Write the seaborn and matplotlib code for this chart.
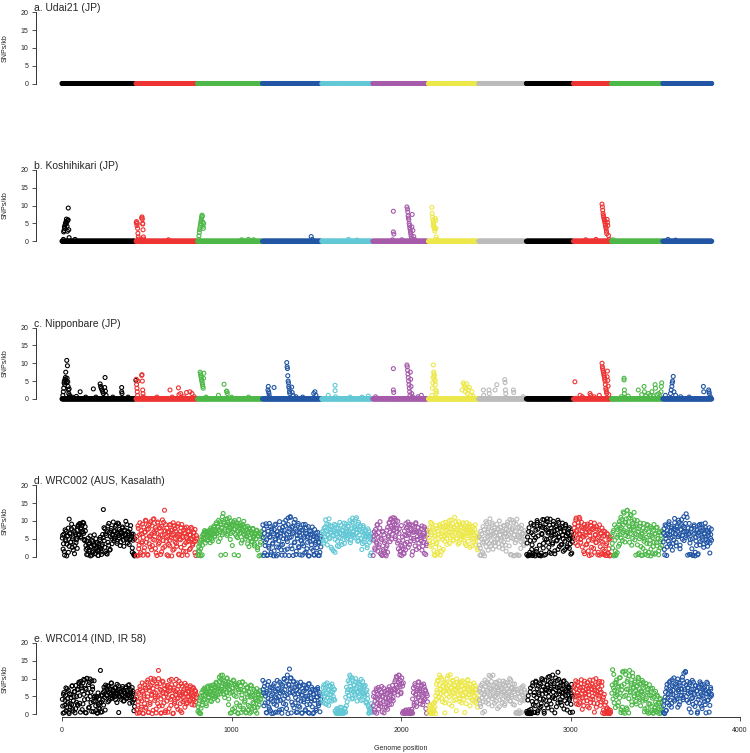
import numpy as np
import pandas as pd
import matplotlib
matplotlib.use("Agg")
import matplotlib.pyplot as plt
import seaborn as sns

sns.set_style("white")
plt.rcParams["font.family"] = ["Liberation Sans", "DejaVu Sans"]

# ---------------- chromosome layout ----------------
chrom_names = ["chr1", "chr2", "chr3", "chr4", "chr5", "chr6",
               "chr7", "chr8", "chr9", "chr10", "chr11", "chr12"]
chrom_start = [0, 437, 800, 1183, 1533, 1834, 2162, 2459, 2740, 3018, 3242, 3545]
chrom_end = [430, 795, 1178, 1528, 1829, 2157, 2454, 2731, 3013, 3237, 3540, 3833]
chrom_colors = ["#000000", "#EE3333", "#4DB848", "#2256A5", "#62C8D6", "#A55AAA",
                "#EDE84A", "#BBBBBB", "#000000", "#EE3333", "#4DB848", "#2256A5"]

panel_titles = ["a. Udai21 (JP)", "b. Koshihikari (JP)", "c. Nipponbare (JP)",
                "d. WRC002 (AUS, Kasalath)", "e. WRC014 (IND, IR 58)"]
y_ticks = [0, 5, 10, 15, 20]
x_ticks = [0, 1000, 2000, 3000, 4000]

# ---------------- panel b: non-zero bins (rest of genome is 0) ----------------
b_peak_pos = [8, 10, 12, 14, 16, 18, 20, 22, 24, 26, 28, 30, 32, 34, 36, 37, 40, 42, 77,
              438, 440, 442, 444, 446, 448, 450, 452, 470, 472, 474, 476, 478, 480, 482, 476, 628,
              805, 808, 810, 812, 814, 816, 818, 820, 822, 824, 826, 828, 830, 832, 834, 836, 1060, 1100, 1130,
              1470, 1476, 1690, 1740,
              1955, 1955, 1958, 1950, 2035, 2038, 2040, 2042, 2044, 2046, 2048, 2050, 2052, 2054, 2056,
              2058, 2060, 2062, 2064, 2066, 2070, 2075, 2080, 2005,
              2182, 2184, 2186, 2188, 2190, 2192, 2194, 2196, 2198, 2200, 2202, 2204, 2206, 2208, 2212, 2190,
              3090, 3150, 3186, 3188, 3190, 3192, 3194, 3196, 3198, 3200, 3202, 3204, 3206, 3208, 3210,
              3212, 3214, 3216, 3218, 3220, 3224, 3228,
              3250, 3575, 3620]
b_peak_val = [0.5, 2.6, 3.0, 4.0, 3.6, 4.5, 5.0, 4.8, 5.5, 6.2, 5.3, 4.2, 2.8, 5.8, 6.0, 9.3, 3.2, 1.0, 0.5,
              5.2, 5.5, 4.4, 5.0, 3.6, 2.2, 1.2, 0.6, 6.5, 6.8, 6.2, 4.8, 3.2, 1.2, 0.6, 5.0, 0.4,
              0.5, 1.5, 2.4, 3.2, 3.8, 4.4, 5.0, 5.6, 6.2, 6.8, 7.3, 7.0, 5.4, 4.2, 3.6, 5.0, 0.4, 0.5, 0.4,
              1.3, 0.5, 0.5, 0.3,
              8.4, 2.6, 2.0, 0.4, 9.6, 9.0, 8.2, 7.1, 6.5, 6.0, 5.0, 4.5, 3.8, 3.3, 2.6,
              2.0, 1.4, 0.8, 4.0, 7.5, 3.0, 1.3, 0.5, 0.4,
              9.5, 7.8, 6.8, 6.0, 5.5, 5.0, 4.6, 4.0, 3.4, 2.8, 6.4, 5.8, 3.6, 1.2, 0.5, 4.2,
              0.4, 0.5, 10.4, 9.6, 8.7, 7.8, 7.2, 6.8, 6.3, 5.9, 5.5, 5.0, 4.5, 4.0, 3.5,
              2.8, 2.1, 6.1, 5.3, 4.4, 1.6, 0.5,
              0.4, 0.5, 0.3]

# ---------------- panel c: non-zero bins (rest of genome is 0) ----------------
c_peak_pos = [5, 8, 10, 12, 14, 16, 18, 20, 22, 24, 26, 28, 30, 32, 34, 36, 38, 40, 42, 44, 46, 60, 85,
              107, 140, 185, 200, 225, 228, 232, 236, 240, 244, 254, 252, 256, 260, 300, 352, 352, 354, 390,
              436, 438, 440, 442, 444, 446, 448, 470, 472, 474, 476, 478, 480, 560, 637, 650, 687, 690,
              700, 720, 735, 755, 767, 780,
              815, 817, 819, 821, 823, 825, 827, 829, 831, 833, 835, 837, 850, 923, 956, 971, 973, 975, 1000, 1100,
              1217, 1215, 1219, 1221, 1223, 1251, 1326, 1328, 1330, 1332, 1334, 1336, 1338, 1340, 1342, 1344,
              1355, 1358, 1364, 1380, 1420, 1485, 1492, 1498,
              1571, 1611, 1611, 1613, 1700, 1770, 1807,
              1850, 1955, 1955, 1957, 2035, 2037, 2039, 2041, 2043, 2045, 2047, 2049, 2051, 2053,
              2055, 2057, 2059, 2063, 2068, 2100, 2120,
              2183, 2185, 2187, 2189, 2191, 2193, 2195, 2197, 2199, 2201, 2203, 2205, 2207, 2209,
              2360, 2368, 2372, 2376, 2380, 2384, 2388, 2392, 2398, 2404, 2410, 2418, 2424,
              2486, 2488, 2519, 2521, 2555, 2565, 2612, 2614, 2616, 2618, 2663, 2665, 2720,
              3026, 3056, 3070, 3115, 3119, 3140, 3170, 3186, 3188, 3190, 3192, 3194, 3196, 3198, 3200,
              3202, 3204, 3206, 3208, 3210, 3212, 3214, 3216, 3218, 3220, 3222, 3226,
              3300, 3316, 3316, 3318, 3318, 3340, 3400, 3434, 3436, 3420, 3445, 3499, 3501, 3460, 3470,
              3480, 3538, 3536, 3534, 3510, 3490, 3520, 3530,
              3560, 3590, 3594, 3598, 3600, 3602, 3606, 3610, 3620, 3650, 3700, 3784, 3786, 3815, 3817, 3819, 3825]
c_peak_val = [1.0, 2.0, 3.0, 4.5, 5.0, 4.0, 5.5, 6.0, 7.5, 5.2, 4.6, 10.8, 5.8, 9.3, 4.8, 3.5, 2.5, 1.5, 2.8, 1.0, 0.6, 0.5, 0.7,
              2.0, 0.5, 2.8, 0.5, 4.2, 3.5, 3.0, 2.5, 2.0, 1.5, 6.0, 3.2, 2.2, 1.0, 0.5, 3.2, 2.0, 1.5, 0.5,
              5.2, 5.5, 4.0, 3.0, 2.0, 1.0, 5.0, 6.6, 6.8, 5.0, 2.5, 1.5, 0.6, 0.5, 2.5, 0.5, 3.1, 1.2,
              1.5, 0.6, 1.8, 2.0, 1.5, 0.6,
              7.5, 7.0, 6.5, 6.0, 5.5, 5.0, 4.5, 4.0, 3.5, 3.0, 5.8, 7.2, 0.5, 1.0, 4.1, 2.2, 2.0, 1.5, 0.5, 0.5,
              3.5, 2.5, 2.0, 1.5, 0.8, 3.2, 10.2, 9.0, 8.5, 6.5, 5.0, 4.5, 3.5, 3.0, 2.0, 1.5,
              3.3, 1.8, 1.0, 0.6, 0.5, 1.5, 2.0, 1.0,
              1.0, 3.8, 2.3, 0.6, 0.5, 0.5, 0.8,
              0.6, 8.5, 2.5, 1.8, 9.5, 9.0, 8.0, 7.0, 6.0, 5.0, 4.0, 3.0, 2.0, 1.0,
              7.5, 5.5, 3.5, 1.5, 0.6, 0.6, 1.0,
              1.0, 3.0, 4.5, 6.0, 9.5, 7.5, 7.0, 6.5, 5.5, 5.0, 4.0, 2.5, 1.5, 2.0,
              2.5, 4.5, 4.0, 3.5, 2.0, 3.0, 4.2, 1.5, 2.5, 3.2, 1.0, 2.0, 0.8,
              2.5, 1.0, 2.5, 1.5, 2.5, 4.0, 5.4, 4.6, 2.5, 1.5, 2.5, 1.8, 0.6,
              4.8, 1.0, 0.6, 1.5, 1.0, 0.6, 1.0, 10.0, 9.0, 8.5, 8.0, 7.5, 7.0, 6.5, 6.0,
              5.5, 5.0, 4.0, 3.0, 2.5, 2.0, 1.5, 6.2, 7.8, 5.2, 3.6, 1.2,
              0.6, 5.8, 5.3, 2.5, 1.5, 0.8, 2.5, 3.5, 2.0, 1.2, 0.8, 4.0, 3.0, 1.5, 1.0,
              2.0, 4.5, 3.5, 2.0, 1.2, 0.8, 1.5, 0.6,
              1.0, 1.5, 2.5, 3.5, 4.5, 5.0, 6.3, 2.0, 1.0, 0.6, 0.5, 3.5, 2.0, 2.5, 2.0, 1.5, 0.6]

# ---------------- panel d: SNPs/kb per bin, by chromosome (two interleaved bin sets) ----------------
d_values = [
    [5.2, 2.1, 6.3, 0.4, 4.8, 7.1, 3.5, 5.9, 1.2, 10.5, 6.4, 4.1, 7.8, 2.6, 5.5, 8.2, 0.8, 6.7, 3.9, 5.1,
     7.4, 8.9, 6.2, 9.3, 5.6, 8.1, 7.0, 9.6, 6.5, 4.8, 8.4,
     3.1, 0.6, 2.4, 5.2, 1.5, 3.8, 0.2, 2.9, 4.6, 1.1, 3.3, 6.1, 0.9, 2.2, 4.0, 1.7, 0.3, 3.6, 2.6, 5.4, 1.3, 3.0,
     6.2, 13.2, 4.5, 7.8, 1.4, 5.9, 0.7, 8.6, 3.2, 6.8, 2.0, 7.3, 5.1,
     6.0, 9.7, 4.4, 7.2, 5.6, 8.8, 3.7, 6.5, 9.2, 5.3, 7.0, 4.1, 6.6, 8.3, 5.8, 2.9, 7.5, 6.2, 4.9, 9.0,
     5.4, 6.9, 3.4, 7.7, 5.0, 6.3, 1.2, 4.6, 0.5, 0.2],
    [0.3, 4.5, 8.6, 2.2, 6.1, 0.5, 7.3, 3.8, 9.1, 5.4, 1.6, 6.8, 10.2, 4.0, 7.6, 0.4, 8.9, 5.7, 2.7, 9.8,
     6.3, 3.1, 10.4, 7.0, 4.6, 8.2, 1.0, 6.5, 9.4, 3.5, 7.9, 5.1, 0.6, 8.5, 6.0, 2.4, 9.6, 13.0, 7.2, 4.3,
     8.0, 5.8, 0.2, 6.9, 3.0, 9.0, 5.2, 7.5, 1.8, 6.4, 8.7, 4.1, 7.1, 2.9, 5.6, 9.2, 0.5, 6.2, 4.7, 8.1,
     0.3, 5.3, 7.4, 3.3, 6.6, 1.4, 8.3, 5.0, 4.2, 7.0, 2.0, 6.1, 4.9, 7.8, 3.6, 5.5, 6.7, 1.1, 4.4, 5.9],
    [0.4, 2.8, 1.5, 4.1, 0.2, 5.6, 3.2, 6.4, 4.8, 6.9, 5.2, 7.1, 4.5, 6.0, 5.8, 7.4, 3.9, 6.6, 5.0, 7.8,
     6.3, 8.2, 5.5, 7.0, 9.1, 6.7, 8.5, 4.2, 7.6, 9.8, 0.4, 8.0, 6.1, 12.1, 9.3, 7.2, 10.5, 8.6, 5.9, 9.6,
     7.4, 10.9, 8.1, 6.5, 9.0, 3.1, 8.8, 7.7, 10.1, 6.2, 9.4, 8.3, 5.3, 0.3, 7.9, 9.2, 6.8, 8.7, 4.6, 7.3,
     9.9, 6.0, 8.4, 5.7, 7.5, 3.6, 6.9, 8.0, 5.1, 7.1, 4.3, 6.4, 7.7, 5.4, 3.0, 6.6, 4.9, 7.2, 2.5, 5.8,
     0.2, 6.3, 4.0, 7.0],
    [8.9, 0.3, 6.5, 3.1, 9.2, 4.7, 0.5, 7.1, 2.4, 5.6, 8.4, 1.2, 6.9, 3.8, 0.2, 7.6, 5.0, 9.1, 2.7, 6.2,
     0.6, 4.4, 8.0, 5.7, 1.9, 7.3, 3.4, 9.5, 6.0, 0.4, 8.6, 4.9, 2.1, 10.8, 7.0, 5.3, 11.2, 3.0, 8.2, 6.4,
     0.3, 9.6, 4.1, 7.7, 1.5, 5.9, 8.8, 2.8, 6.7, 0.5, 4.6, 7.4, 3.6, 9.0, 5.2, 1.0, 6.5, 8.1, 2.2, 5.5,
     0.2, 7.2, 4.3, 6.1, 3.3, 8.3, 1.7, 5.8, 0.4, 4.0, 6.6, 2.5, 5.1, 0.3, 3.9, 1.2, 5.6],
    [5.2, 7.1, 3.8, 6.5, 8.3, 4.6, 9.2, 6.0, 7.7, 10.6, 5.4, 8.6, 6.9, 2.1, 7.4, 5.8, 9.0, 1.2, 6.3, 8.1,
     4.3, 7.0, 2.8, 6.6, 5.1, 8.8, 3.4, 7.3, 6.1, 9.4, 5.6, 7.9, 4.9, 6.8, 8.5, 5.9, 7.2, 3.9, 6.4, 9.7,
     10.8, 6.2, 8.0, 5.3, 7.6, 10.9, 6.7, 9.1, 4.5, 7.5, 8.7, 5.0, 2.0, 6.9, 8.2, 4.1, 7.1, 5.7, 6.3, 3.2,
     7.8, 5.5, 6.0, 0.3, 4.7, 6.4],
    [0.3, 5.8, 2.4, 7.6, 4.1, 8.9, 1.5, 6.7, 3.3, 9.8, 5.2, 0.5, 7.1, 2.0, 6.1, 1.1, 4.4, 0.2, 3.1, 8.2,
     5.5, 9.4, 6.8, 10.6, 4.9, 8.0, 10.9, 7.3, 9.1, 5.6, 10.2, 7.9, 3.8, 2.2, 6.5, 0.5, 1.4, 8.7, 2.9, 4.6,
     1.0, 7.2, 3.5, 9.3, 5.9, 8.4, 2.6, 6.2, 9.0, 4.3, 7.5, 0.4, 8.6, 5.1, 6.9, 3.0, 9.5, 7.0, 4.8, 8.1,
     2.5, 6.4, 5.3, 7.8, 1.8, 6.0, 4.0, 8.3, 5.7, 0.6, 3.6, 7.4],
    [5.4, 8.1, 2.9, 6.8, 9.3, 4.2, 7.5, 0.5, 6.0, 8.7, 3.6, 1.2, 7.2, 5.1, 9.0, 0.4, 6.5, 8.3, 4.8, 2.0,
     7.9, 5.7, 9.6, 6.3, 3.4, 8.5, 7.0, 10.1, 5.3, 7.7, 6.6, 9.2, 4.4, 8.0, 11.0, 6.9, 5.0, 8.8, 7.3, 9.8,
     3.9, 6.2, 8.4, 5.6, 7.1, 9.5, 4.7, 7.8, 6.4, 3.1, 8.2, 5.9, 7.4, 9.1, 2.6, 6.7, 8.6, 5.2, 7.0, 4.1,
     6.1, 8.9, 3.3, 5.8, 1.9],
    [3.2, 0.4, 7.1, 5.0, 1.3, 8.4, 4.2, 0.2, 6.6, 2.8, 9.3, 5.5, 7.8, 3.6, 10.6, 6.2, 4.5, 8.9, 2.1, 7.3,
     5.8, 3.9, 6.9, 9.1, 4.8, 7.6, 2.6, 6.1, 8.2, 5.2, 3.4, 7.0, 4.0, 8.6, 6.4, 1.5, 5.7, 9.7, 7.4, 3.0,
     10.4, 6.8, 0.5, 8.0, 5.1, 9.5, 0.3, 7.2, 4.6, 10.5, 6.0, 0.4, 8.3, 5.4, 2.3, 7.7, 4.9, 6.5, 3.1, 5.9],
    [0.6, 5.5, 0.3, 8.1, 1.2, 0.4, 6.7, 3.3, 0.8, 9.0, 4.6, 0.2, 7.4, 2.1, 9.6, 5.8, 0.5, 0.3, 8.5, 1.0,
     6.2, 10.4, 3.7, 0.4, 7.9, 9.2, 4.8, 10.6, 6.6, 2.6, 8.8, 5.2, 0.9, 7.1, 3.9, 9.9, 6.0, 1.6, 8.3, 4.4,
     7.6, 10.2, 5.6, 2.8, 8.0, 6.9, 3.4, 9.4, 4.9, 7.2, 1.9, 8.6, 5.9, 3.0, 6.4, 7.7, 2.3, 5.1, 0.7, 6.8, 4.1],
    [6.5, 9.2, 3.8, 10.8, 7.4, 5.1, 8.6, 11.0, 6.2, 4.0, 9.6, 2.7, 7.9, 5.5, 0.8, 8.2, 6.8, 3.5, 9.1, 1.6,
     7.1, 5.9, 8.8, 0.5, 4.6, 7.6, 2.3, 9.4, 6.0, 3.9, 8.4, 5.2, 1.2, 7.3, 0.4, 6.6, 4.3, 8.0, 2.0, 5.7,
     0.6, 7.0, 3.1, 0.3, 6.3, 1.0, 4.8, 0.2, 5.4],
    [5.8, 2.4, 7.3, 0.5, 4.6, 0.3, 8.2, 1.1, 6.0, 9.1, 3.5, 7.7, 5.2, 10.4, 6.8, 8.9, 12.2, 4.1, 9.6, 7.0,
     12.9, 5.6, 10.8, 8.3, 6.4, 11.5, 3.2, 9.3, 7.5, 12.4, 4.7, 8.6, 6.2, 10.1, 0.6, 7.8, 5.0, 9.4, 2.8, 6.6,
     0.4, 8.0, 4.3, 7.1, 1.5, 5.4, 9.0, 0.3, 6.9, 3.6, 8.4, 2.1, 5.9, 0.8, 7.4, 4.0, 6.3, 1.0, 8.1, 3.0,
     5.1, 0.5, 6.7, 2.5, 4.8, 7.2],
    [4.1, 7.8, 0.5, 5.9, 8.6, 2.7, 6.4, 9.2, 3.5, 7.1, 5.2, 8.0, 1.8, 6.7, 4.6, 9.5, 7.4, 3.0, 8.3, 5.6,
     10.2, 6.1, 2.2, 7.6, 9.0, 4.9, 6.9, 11.2, 8.1, 5.3, 12.0, 7.0, 0.4, 6.2, 9.3, 3.8, 0.6, 7.9, 5.0, 0.3,
     8.5, 6.6, 1.2, 4.4, 7.3, 0.5, 5.8, 8.8, 3.3, 6.0, 9.1, 4.7, 7.5, 2.6, 6.3, 8.2, 5.5, 3.9, 7.0, 4.2,
     6.8, 1.0, 5.1, 7.7],
]
d_values_2 = [
    [6.0, 3.6, 1.4, 7.5, 4.4, 0.2, 5.7, 8.0, 2.9, 6.6, 4.0, 9.1, 5.0, 1.8, 7.0, 3.1, 6.2, 4.7, 2.3,
     8.6, 6.0, 9.1, 7.7, 5.2, 8.8, 6.9, 9.4, 4.5, 7.2,
     2.0, 4.4, 0.5, 3.5, 1.9, 5.8, 2.7, 0.4, 4.2, 1.4, 3.0, 0.8, 5.0, 2.5, 3.9, 0.3, 1.8, 4.8, 2.2, 0.6, 3.4,
     5.3, 8.1, 2.6, 6.4, 0.9, 7.0, 4.0, 9.3, 1.8, 5.6, 7.9, 3.6, 6.1,
     7.1, 5.0, 8.5, 6.2, 4.3, 9.4, 5.9, 7.6, 3.1, 6.8, 5.5, 8.0, 4.6, 7.3, 6.0, 9.9, 5.2, 3.8, 7.0, 6.4,
     4.8, 8.7, 5.7, 2.4, 6.3, 0.8, 5.0],
    [5.6, 0.2, 7.9, 3.2, 9.5, 1.1, 6.4, 4.2, 0.4, 8.3, 2.5, 6.9, 10.0, 5.0, 0.6, 7.7, 3.6, 9.2, 5.8, 1.9,
     8.6, 4.8, 10.6, 6.6, 2.3, 7.5, 0.3, 9.7, 5.3, 3.9, 8.1, 6.1, 1.3, 10.3, 4.5, 7.2, 2.8, 9.0, 5.5, 0.5,
     6.8, 3.4, 8.9, 4.6, 7.4, 0.2, 6.0, 9.5, 2.1, 7.8, 5.1, 3.7, 8.5, 6.3, 0.7, 4.9, 7.0, 2.6, 9.0, 5.7,
     1.5, 6.6, 8.0, 3.9, 5.4, 0.4, 7.2, 4.5, 6.1, 2.3, 8.2, 5.0, 3.2, 6.8, 4.1, 7.6, 0.3, 5.2],
    [1.6, 0.3, 3.5, 2.2, 4.7, 0.5, 6.0, 5.1, 7.3, 3.8, 6.4, 5.6, 7.0, 4.7, 6.7, 5.3, 8.0, 6.1, 4.4, 7.5,
     8.6, 5.8, 7.3, 9.5, 6.4, 8.2, 10.2, 7.0, 5.1, 9.2, 8.0, 11.2, 6.6, 9.8, 7.7, 0.6, 8.9, 10.6, 6.3, 9.1,
     7.9, 4.8, 10.0, 8.4, 6.9, 9.7, 0.5, 7.6, 8.8, 5.6, 9.3, 7.1, 10.4, 6.5, 8.6, 3.8, 7.9, 9.0,
     6.3, 8.1, 4.9, 7.3, 5.6, 8.5, 6.8, 2.8, 7.6, 5.2, 6.6, 4.1, 7.9, 5.9, 3.5, 6.2, 5.0, 7.4, 1.9, 5.7,
     6.8, 3.3, 0.4, 5.5],
    [5.3, 7.7, 1.0, 4.1, 8.6, 0.3, 6.1, 2.9, 9.3, 5.4, 0.5, 7.8, 3.5, 6.4, 1.6, 8.9, 4.7, 0.2, 7.0, 5.9,
     2.6, 9.8, 6.6, 3.2, 0.4, 8.2, 5.0, 7.4, 1.8, 10.2, 6.3, 4.2, 9.0, 0.3, 7.7, 11.0, 5.5, 2.2, 8.5, 6.8,
     3.9, 10.4, 0.6, 7.2, 5.1, 9.3, 2.5, 6.0, 8.0, 4.4, 0.4, 7.5, 3.0, 5.7, 9.0, 1.3, 6.5, 4.0, 8.4, 0.2,
     5.2, 7.1, 2.3, 6.3, 4.6, 0.5, 7.6, 3.4, 5.5, 1.0, 6.8, 4.1, 0.3, 5.0, 2.7],
    [6.9, 4.4, 8.0, 5.6, 10.3, 7.3, 3.3, 6.2, 9.0, 5.0, 7.6, 2.6, 8.4, 6.0, 1.6, 7.0, 4.8, 8.8, 6.5, 3.0,
     7.9, 5.4, 9.6, 6.7, 4.1, 7.4, 5.9, 8.2, 3.7, 6.3, 9.1, 7.1, 5.2, 8.6, 6.4, 10.1, 4.6, 7.8, 6.0, 9.3,
     5.7, 8.4, 10.5, 6.6, 7.7, 4.3, 9.6, 6.1, 8.3, 5.1, 7.0, 3.6, 8.7, 6.5, 4.9, 7.5, 5.5, 2.5, 6.2, 7.2,
     4.0, 5.8, 1.0, 5.0],
    [4.6, 7.0, 1.9, 6.2, 3.7, 9.0, 5.4, 2.7, 8.0, 0.8, 4.8, 0.3, 6.9, 1.6, 3.9, 0.6, 2.5, 7.4, 1.2, 5.9,
     9.6, 4.2, 8.5, 10.4, 6.3, 9.8, 7.6, 10.8, 5.0, 8.8, 6.9, 9.9, 4.4, 7.8, 1.6, 3.2, 0.3, 5.5, 2.1, 0.8,
     6.0, 1.9, 8.0, 4.0, 9.7, 6.6, 3.4, 7.9, 5.2, 8.9, 1.4, 6.8, 4.5, 7.3, 9.2, 2.0, 5.6, 8.2, 3.8, 7.0,
     5.9, 4.4, 8.6, 2.9, 6.5, 0.9, 5.0, 7.7, 3.1, 6.1],
    [7.2, 4.5, 9.6, 6.1, 3.2, 8.0, 1.7, 5.6, 0.3, 7.8, 4.0, 0.8, 6.3, 2.5, 8.6, 5.5, 1.5, 7.1, 9.4, 6.0,
     4.3, 8.4, 7.3, 5.0, 9.0, 6.8, 3.7, 8.7, 10.3, 5.9, 7.5, 4.7, 8.2, 6.4, 9.7, 5.2, 7.9, 3.5, 6.7, 8.9,
     7.4, 4.9, 9.2, 6.1, 5.4, 8.0, 3.6, 7.6, 9.5, 6.5, 4.3, 8.4, 5.7, 7.2, 3.0, 6.9, 8.3, 5.0, 7.7, 4.5,
     6.6, 2.4, 5.3],
    [5.5, 2.4, 0.3, 6.4, 3.8, 0.8, 7.6, 5.0, 9.8, 4.2, 6.9, 1.8, 8.3, 5.7, 3.0, 7.1, 9.4, 6.3, 4.0, 8.0,
     2.9, 6.7, 5.1, 7.9, 3.7, 10.0, 6.0, 4.5, 7.3, 2.2, 8.7, 5.5, 6.6, 3.2, 7.7, 9.0, 4.8, 6.2, 8.5, 0.6,
     5.3, 10.2, 7.5, 0.2, 6.0, 3.9, 9.1, 0.5, 8.0, 5.6, 0.3, 7.0, 4.2, 8.8, 6.4, 3.5, 7.3, 4.8],
    [3.8, 0.2, 7.0, 0.5, 4.5, 9.4, 2.0, 0.3, 6.1, 8.6, 0.7, 5.3, 1.4, 10.1, 7.7, 0.4, 3.2, 9.0, 0.2, 6.5,
     8.2, 2.4, 10.3, 5.0, 0.6, 7.4, 9.8, 4.0, 6.9, 1.2, 10.5, 8.0, 5.7, 3.5, 9.1, 7.2, 0.8, 6.3, 8.7, 4.6,
     2.0, 9.6, 5.4, 7.9, 3.3, 8.4, 6.1, 1.5, 7.0, 4.3, 9.0, 5.8, 2.6, 6.7, 4.8, 8.1, 3.6, 6.0, 1.0, 5.5],
    [8.0, 5.3, 10.3, 7.0, 3.1, 9.5, 6.4, 10.6, 4.8, 8.3, 7.2, 5.7, 1.4, 9.0, 6.0, 3.3, 8.6, 7.5, 4.5, 0.3,
     6.8, 9.6, 2.6, 7.9, 5.0, 8.2, 1.2, 6.2, 4.0, 7.7, 0.5, 5.5, 8.9, 2.8, 6.5, 0.7, 4.1, 7.2, 1.5, 5.8,
     0.3, 3.6, 6.4, 0.8, 2.2, 5.0, 0.4],
    [3.7, 6.8, 0.2, 8.9, 1.6, 0.6, 5.4, 7.6, 2.9, 9.8, 6.2, 11.0, 8.1, 4.5, 12.5, 7.3, 9.6, 5.9, 10.6, 13.0,
     6.6, 8.6, 4.0, 11.8, 7.7, 9.9, 5.1, 8.3, 10.3, 6.4, 0.4, 9.1, 3.3, 7.0, 1.0, 8.5, 5.6, 0.3, 6.2, 2.3,
     9.3, 4.9, 0.6, 7.6, 3.7, 8.8, 1.2, 6.1, 4.6, 0.2, 7.9, 5.3, 2.8, 9.0, 0.7, 6.5, 3.9, 8.2, 5.0, 1.6,
     7.0, 4.2, 6.0, 3.1],
    [6.5, 2.0, 8.9, 5.1, 0.3, 7.3, 4.3, 9.8, 6.1, 2.9, 8.4, 5.5, 3.7, 7.8, 10.7, 6.4, 4.0, 8.7, 7.1, 5.6,
     9.6, 3.2, 7.5, 10.4, 6.0, 8.5, 4.5, 7.0, 9.3, 5.9, 11.0, 8.0, 6.5, 0.6, 4.8, 7.7, 2.2, 0.4, 6.3, 8.9,
     0.2, 5.4, 3.1, 7.6, 0.8, 6.8, 9.0, 4.2, 7.2, 5.5, 8.0, 3.5, 6.6, 9.4, 4.8, 7.4, 2.9, 5.9, 8.1, 3.8,
     6.2, 4.6],
]

# ---------------- panel e: SNPs/kb per bin, by chromosome (two interleaved bin sets) ----------------
e_values = [
    [4.2, 0.3, 6.1, 2.5, 5.3, 1.0, 7.2, 3.4, 0.6, 5.8, 2.1, 4.7, 7.9, 1.5, 3.8, 6.4, 0.4, 8.1, 5.0, 2.8,
     6.9, 8.6, 3.1, 9.2, 7.4, 1.3, 8.8, 5.6, 9.6, 0.5, 7.0, 10.1, 4.3, 8.3, 2.0, 9.9, 6.2, 0.8, 7.7, 3.6,
     9.4, 5.1, 2.4, 4.6, 0.3, 6.0, 1.8, 3.2, 12.3, 5.4, 0.7, 4.0, 2.6, 6.6, 1.2, 7.6,
     5.2, 8.0, 6.3, 3.9, 7.1, 5.7, 8.7, 4.5, 6.8, 5.5, 7.4, 4.1, 6.1, 8.4, 5.9, 0.5, 7.0, 4.8, 6.5, 5.3,
     7.8, 3.7, 6.0, 5.0, 7.3, 4.4, 6.7, 8.1, 5.6, 3.1, 6.2, 4.9, 7.5, 5.8, 4.0, 2.2],
    [4.8, 0.3, 2.6, 5.9, 0.5, 7.1, 1.4, 3.8, 6.5, 0.2, 5.2, 8.3, 2.0, 6.9, 4.1, 9.6, 0.6, 7.5, 3.3, 10.1,
     5.6, 8.8, 1.1, 6.2, 9.4, 4.5, 0.4, 7.8, 3.0, 12.3, 5.4, 8.6, 0.3, 6.7, 2.4, 9.1, 4.8, 7.2, 0.5, 5.9,
     3.7, 8.1, 6.4, 1.6, 7.6, 4.2, 9.8, 5.0, 0.2, 6.8, 3.1, 8.4, 5.6, 2.2, 7.0, 4.6, 9.3, 6.1, 1.0, 5.3,
     7.9, 3.5, 6.6, 4.0, 8.7, 5.8, 2.9, 7.3, 4.9, 6.2, 3.8, 8.0, 5.4, 6.9, 4.3, 7.5, 2.6, 5.7, 6.4, 4.7],
    [0.8, 2.9, 0.3, 4.6, 1.7, 6.1, 3.5, 5.4, 7.0, 4.2, 6.6, 2.4, 5.8, 7.5, 4.9, 6.3, 3.8, 7.2, 5.5, 8.1,
     6.0, 4.4, 7.7, 5.2, 8.6, 6.8, 3.9, 7.4, 9.2, 5.7, 10.9, 8.0, 6.5, 9.6, 7.1, 4.7, 8.4, 6.2, 10.2, 7.6,
     2.7, 9.0, 5.9, 8.7, 0.5, 7.3, 6.4, 9.4, 1.8, 8.2, 5.0, 7.8, 0.4, 6.9, 8.9, 2.2, 7.0, 4.5, 9.1, 1.2,
     6.7, 3.4, 8.3, 0.6, 5.6, 7.4, 2.5, 6.1, 0.3, 4.8, 8.0, 1.5, 5.3, 3.0, 6.6, 0.9, 4.1, 7.2, 2.0, 5.5,
     3.6, 6.3, 4.4, 5.1],
    [9.5, 6.0, 7.8, 3.2, 5.9, 0.4, 8.2, 4.5, 2.0, 6.8, 1.0, 5.3, 7.4, 3.6, 0.3, 8.6, 4.9, 6.3, 2.5, 7.1,
     0.6, 5.0, 9.0, 3.9, 6.6, 1.4, 8.1, 4.3, 10.0, 6.9, 2.8, 9.4, 5.6, 0.2, 8.4, 12.7, 7.0, 10.2, 3.4, 6.1,
     9.1, 1.8, 7.5, 4.7, 0.5, 8.8, 5.8, 2.3, 6.4, 7.9, 3.7, 0.4, 5.4, 8.3, 4.1, 6.7, 1.3, 7.3, 2.7, 5.1,
     8.5, 0.3, 6.0, 4.4, 7.6, 2.1, 5.7, 0.5, 3.9, 6.9, 1.1, 4.8, 7.0, 3.0, 5.5, 0.7, 4.2],
    [6.1, 3.4, 8.2, 5.0, 7.3, 2.8, 8.8, 4.6, 6.7, 3.9, 7.9, 5.5, 8.5, 6.3, 4.2, 7.0,
     0.9, 0.3, 1.6, 0.5, 0.2, 1.2, 0.6, 0.4, 1.9, 0.3, 0.8, 0.5, 1.4,
     4.8, 7.6, 6.2, 9.4, 5.3, 11.0, 7.8, 6.6, 10.2, 4.5, 8.3, 5.9, 9.1, 7.1, 3.7, 6.4, 8.7, 5.2, 7.4, 9.8,
     6.0, 4.1, 7.7, 5.6, 8.1, 3.2, 6.8, 4.4, 2.1, 0.4, 1.3, 0.6, 1.8],
    [2.4, 6.1, 0.6, 4.8, 7.2, 3.0, 5.6, 1.5, 6.9, 4.0, 2.2, 7.8, 5.1, 3.5, 0.4, 6.4, 4.6, 1.9, 5.8, 3.2,
     7.0, 2.7, 5.3, 6.6, 4.2, 8.1, 3.8, 6.0,
     9.1, 6.8, 10.6, 7.5, 5.4, 11.0, 8.3, 9.6, 6.2, 10.2, 7.9, 8.8,
     0.5, 0.2, 1.0, 0.4, 0.8, 0.3, 1.3, 0.6, 0.2, 0.9, 0.4,
     4.3, 7.4, 2.5, 8.6, 5.7, 3.3, 6.7, 9.0, 4.9, 7.1, 2.9, 6.3, 8.2, 5.0, 3.6, 7.7, 4.4, 6.5, 0.3, 5.2],
    [1.2, 0.3, 2.6, 0.5, 1.8, 0.2, 3.0, 0.8, 2.1, 5.2,
     8.4, 6.1, 9.3, 4.7, 11.0, 7.2, 5.8, 9.8, 3.5, 7.9, 6.5, 0.4, 8.7, 4.2, 10.1, 6.9, 8.0, 2.9, 11.1, 7.4,
     5.3, 9.5, 6.2, 3.9, 8.3, 7.0, 1.0, 9.0, 5.6, 7.7, 4.4, 8.9, 6.6, 3.2, 9.4, 5.1, 7.3, 0.5, 8.1, 6.0,
     4.8, 9.7, 7.1, 5.5, 2.4, 8.5, 6.3, 4.1, 7.6, 5.9, 3.4, 8.0, 6.8, 4.6, 2.0],
    [4.1, 7.3, 2.2, 6.0, 8.6, 3.5, 5.4, 0.8, 7.7, 4.8, 9.1, 6.3, 2.9, 8.2, 5.6, 10.6, 7.0, 4.4, 11.0, 6.7,
     3.1, 8.9, 5.2, 7.5, 1.6, 6.4, 9.4, 4.0, 7.8, 5.9, 3.3, 8.4, 6.6, 2.5, 9.0, 5.0, 7.2, 4.3, 8.1, 6.1,
     3.7, 9.6, 5.5, 7.4, 2.8, 6.9, 8.5, 4.7, 0.5, 7.1, 0.3, 5.8, 1.0, 0.4, 6.2, 3.9, 7.6, 5.1, 4.5, 6.8],
    [0.8, 0.3, 5.2, 1.1, 0.5, 7.4, 0.2, 3.6, 8.8, 0.6, 6.1, 2.4, 9.3, 4.7, 0.4, 7.9, 5.5, 1.7, 8.5, 3.0,
     6.8, 9.7, 4.2, 0.3, 7.1, 5.9, 2.6, 8.2, 10.4, 6.4, 3.8, 9.0, 7.5, 1.2, 11.0, 5.0, 8.6, 4.4, 6.9, 2.1,
     9.5, 11.8, 5.7, 7.8, 3.4, 8.9, 6.2, 4.9, 9.2, 1.5, 7.2, 5.3, 8.0, 3.1, 6.6, 7.6, 4.5, 0.5, 6.0, 8.4, 5.1],
    [6.4, 8.2, 3.9, 7.1, 5.2, 9.0, 2.7, 6.8, 4.5, 8.6, 5.8, 1.4, 7.5, 3.6, 9.3, 6.1, 4.8, 8.0, 2.2, 7.3,
     5.5, 9.6, 3.3, 6.9, 8.4, 4.2, 7.7, 0.6, 5.9, 10.0, 6.5, 3.0, 8.8, 5.1, 7.0, 2.5, 6.2, 9.1, 4.0, 1.2,
     5.6, 0.3, 3.4, 0.5, 1.8, 0.2, 0.7, 0.4, 1.1],
    [5.9, 12.5, 7.4, 3.2, 8.8, 5.0, 9.6, 6.3, 2.4, 7.9, 4.6, 10.3, 1.2, 6.8, 11.9, 0.6, 8.5, 12.1, 5.3, 1.8,
     9.2, 7.1, 0.4, 10.8, 6.0, 8.2, 3.5, 11.6, 7.6, 4.9, 9.4, 6.6, 2.9, 8.0, 5.5, 10.0, 7.2, 4.1, 8.7, 6.2,
     3.7, 9.0, 5.7, 1.5, 7.8, 4.4, 0.8, 6.9, 3.0, 8.3, 0.5, 5.2, 2.2, 7.3, 0.3, 4.8, 1.0, 6.4, 2.7, 0.6,
     5.0, 3.4, 1.3, 4.2, 0.4, 2.0],
    [0.5, 3.8, 0.2, 6.2, 1.1, 8.4, 4.5, 7.0, 2.6, 9.3, 5.6, 3.1, 8.0, 6.7, 10.2, 4.2, 7.6, 5.0, 9.0, 2.0,
     6.4, 8.7, 3.5, 7.2, 5.3, 9.6, 4.7, 11.5, 6.9, 12.0, 8.2, 3.9, 7.4, 5.8, 1.5, 8.9, 6.0, 4.4, 9.5, 2.8,
     7.1, 5.5, 8.1, 3.3, 6.5, 0.7, 7.8, 4.9, 9.1, 6.2, 2.3, 8.4, 5.1, 7.3, 3.6, 6.8, 0.4, 5.7, 8.6, 4.0,
     6.1, 2.5, 7.5, 5.2],
]
e_values_2 = [
    [2.3, 5.6, 0.5, 3.9, 7.4, 1.9, 4.4, 6.7, 0.2, 3.0, 5.5, 2.7, 8.0, 0.9, 4.9, 6.3, 1.6, 3.4, 7.0,
     2.5, 9.0, 5.2, 0.6, 8.0, 6.5, 2.9, 9.8, 4.1, 7.3, 0.4, 10.0, 6.0, 1.8, 8.9, 5.0, 3.3, 9.4, 7.0, 0.7, 4.8,
     3.7, 1.0, 5.0, 0.4, 2.7, 4.2, 1.5, 0.6, 3.4, 5.3,
     6.1, 7.6, 4.7, 8.2, 5.4, 6.9, 3.5, 7.8, 6.0, 4.4, 8.8, 5.2, 7.0, 6.4, 4.9, 7.5, 5.7, 3.3, 6.6, 8.0,
     5.0, 6.2, 4.2, 7.2, 5.5, 6.8, 3.8, 5.9, 7.7, 4.6, 6.0, 5.3, 8.3, 4.7, 6.9, 5.1, 3.4, 6.4, 1.0, 4.3],
    [1.2, 6.4, 3.5, 0.4, 7.8, 4.4, 2.0, 8.8, 0.3, 5.7, 3.0, 7.4, 1.7, 9.0, 4.9, 0.5, 6.7, 2.8, 8.1, 5.3,
     0.2, 7.2, 9.9, 3.9, 6.0, 1.5, 8.5, 5.0, 10.0, 2.3, 7.0, 4.3, 0.4, 9.3, 6.1, 3.2, 8.0, 1.0, 5.8, 7.7,
     0.6, 4.6, 9.5, 6.6, 2.5, 8.3, 5.1, 0.3, 7.4, 3.6, 6.3, 9.8, 4.4, 1.4, 7.9, 5.5, 3.0, 8.6, 0.5, 6.1,
     4.7, 7.1, 2.0, 5.9, 8.1, 3.3, 6.5, 5.0, 7.6, 4.2, 6.0, 2.7, 7.3, 5.2, 4.0, 6.7, 3.5, 5.4],
    [2.1, 0.5, 3.8, 0.2, 5.1, 2.6, 6.8, 4.0, 7.4, 5.3, 3.0, 6.1, 7.9, 4.6, 5.7, 8.0, 6.4, 3.6, 7.0, 5.1,
     8.3, 6.6, 4.8, 9.0, 7.3, 5.4, 8.0, 10.4, 6.3, 9.8, 7.0, 11.0, 8.6, 5.6, 9.3, 7.8, 6.0, 10.0, 8.2, 4.3,
     7.1, 0.3, 8.8, 6.1, 1.4, 9.6, 5.3, 0.8, 7.6, 3.2, 8.5, 0.2, 6.3, 2.6, 7.9, 0.5, 5.4, 9.0, 1.6, 6.8,
     3.8, 0.4, 7.5, 4.9, 1.1, 6.4, 2.2, 8.2, 0.7, 5.0, 3.3, 7.0, 1.9, 4.5, 6.2, 0.3, 3.9, 5.8, 2.6, 6.7,
     4.2, 5.5],
    [7.0, 2.4, 8.8, 5.1, 0.5, 6.4, 3.3, 9.2, 1.5, 7.6, 4.2, 0.2, 5.7, 8.0, 2.9, 6.6, 0.6, 4.6, 9.5, 3.7,
     7.2, 1.2, 5.9, 8.5, 0.3, 6.3, 3.0, 9.8, 5.2, 7.9, 1.6, 11.0, 4.5, 8.2, 6.0, 10.1, 0.4, 7.4, 2.6, 9.3,
     5.6, 3.2, 8.4, 6.9, 0.6, 4.1, 7.8, 2.0, 9.0, 5.3, 0.3, 6.4, 3.5, 8.1, 1.0, 5.0, 7.2, 4.4, 0.5, 8.6,
     2.8, 6.2, 3.7, 7.0, 0.2, 5.5, 4.0, 6.8, 1.6, 4.9, 7.5, 2.4, 6.1, 3.3, 5.2],
    [4.2, 7.5, 5.8, 3.1, 8.4, 6.0, 4.6, 7.0, 2.5, 5.5, 8.0, 6.4, 3.7, 7.7, 5.0, 6.9, 4.0,
     1.0, 0.4, 0.2, 1.5, 0.6, 0.3, 2.0, 0.8, 0.2, 1.1, 0.5, 0.3, 1.7, 0.6, 2.4, 3.5,
     6.9, 5.2, 8.9, 10.5, 7.0, 4.3, 9.6, 6.4, 8.1, 5.4, 10.0, 7.6, 6.1, 9.0, 4.8, 8.4, 6.7, 3.9, 7.2, 9.2,
     5.8, 7.9, 5.0, 6.3, 3.5, 5.5,
     2.6, 0.3, 1.5, 0.8, 3.0, 0.5],
    [5.0, 1.2, 3.7, 6.6, 0.3, 4.3, 7.5, 2.5, 5.4, 3.1, 6.2, 0.7, 4.9, 7.3, 2.0, 5.7, 3.4, 6.8, 1.4, 4.5,
     7.7, 3.9, 5.9, 2.8, 6.4, 4.7, 7.1,
     7.0, 9.6, 8.2, 10.4, 6.5, 9.0, 10.9, 7.7, 5.8, 8.6,
     0.3, 0.8, 0.5, 0.2, 1.2, 0.4, 0.7, 0.3, 1.0, 0.5, 0.2, 0.6, 1.4, 0.3,
     6.1, 3.1, 8.0, 5.4, 2.2, 7.2, 4.6, 9.1, 6.6, 3.8, 7.9, 5.6, 2.7, 8.5, 4.1, 6.9, 1.6, 5.8, 3.5],
    [0.5, 2.2, 1.1, 0.3, 2.8, 0.6, 1.5, 3.4, 0.2, 4.0,
     6.8, 9.6, 5.0, 8.2, 7.0, 10.4, 4.4, 7.7, 6.1, 9.0, 3.2, 8.6, 5.6, 7.3, 10.8, 6.5, 4.9, 8.9, 7.6, 2.3,
     9.3, 5.8, 8.0, 6.8, 4.1, 9.9, 7.2, 5.2, 8.4, 3.6, 6.9, 9.1, 7.9, 5.5, 4.3, 8.7, 6.2, 3.0, 7.5, 9.5,
     5.4, 6.7, 8.3, 4.6, 7.0, 3.9, 6.4, 8.8, 5.0, 7.2, 3.1, 6.0, 4.4],
    [6.5, 2.9, 8.1, 4.6, 0.4, 7.0, 5.7, 9.6, 3.4, 6.8, 8.6, 4.0, 10.9, 7.4, 5.1, 9.2, 2.4, 6.2, 8.0, 4.9,
     7.7, 3.6, 9.0, 5.8, 6.9, 2.1, 8.4, 5.3, 7.2, 4.3, 9.3, 6.1, 3.0, 7.9, 5.6, 8.8, 4.7, 6.5, 10.0, 3.8,
     7.3, 5.0, 8.5, 6.3, 2.6, 7.0, 0.3, 4.4, 0.6, 6.0, 0.2, 3.3, 7.4, 0.5, 5.5, 8.0, 3.9, 6.2],
    [0.3, 4.0, 0.6, 0.2, 6.3, 1.4, 0.4, 8.0, 2.7, 5.3, 0.5, 9.0, 3.5, 7.2, 1.0, 6.0, 8.8, 4.3, 2.2, 10.0,
     5.6, 7.7, 0.8, 9.6, 3.9, 6.7, 8.4, 1.8, 5.0, 10.6, 7.0, 2.9, 9.3, 4.6, 6.2, 8.0, 0.4, 10.2, 5.5, 7.5,
     3.2, 9.8, 6.4, 4.1, 8.2, 2.5, 7.0, 5.9, 9.4, 3.8, 6.6, 8.6, 1.2, 5.2, 7.3, 4.0, 6.9, 2.8, 5.6, 0.6],
    [7.7, 4.9, 9.4, 2.9, 6.0, 8.1, 5.3, 3.2, 7.4, 9.7, 4.6, 6.6, 2.4, 8.5, 5.6, 7.0, 3.8, 9.0, 6.3, 1.8,
     8.0, 4.3, 7.2, 5.0, 9.6, 3.1, 6.7, 8.2, 2.0, 5.5, 7.6, 4.4, 9.2, 6.0, 3.5, 7.9, 0.4, 4.8, 0.2, 2.6,
     0.8, 1.5, 0.3, 0.6, 1.3, 0.2, 0.5],
    [8.2, 4.3, 11.2, 6.7, 1.9, 9.0, 5.5, 7.6, 3.3, 10.2, 6.0, 0.5, 8.0, 2.0, 12.0, 5.0, 0.3, 11.2, 7.0, 1.4,
     9.8, 4.4, 12.3, 6.4, 8.7, 2.6, 10.6, 7.3, 5.2, 9.0, 3.6, 7.8, 6.0, 10.4, 4.7, 8.4, 2.4, 6.6, 9.5, 5.3,
     7.4, 0.7, 4.0, 8.6, 1.8, 6.2, 0.3, 5.5, 2.9, 7.1, 1.0, 4.5, 0.4, 6.0, 2.0, 3.4, 0.8, 5.4, 1.5, 3.0,
     0.2, 4.4, 1.2, 3.6],
    [2.4, 0.3, 4.8, 1.0, 7.4, 3.2, 5.8, 8.9, 4.0, 6.5, 2.0, 9.7, 5.5, 7.8, 3.7, 8.5, 6.1, 4.4, 9.9, 6.9,
     2.7, 8.0, 5.2, 7.1, 10.4, 4.1, 8.7, 6.3, 11.8, 5.0, 9.2, 7.5, 3.3, 8.3, 6.2, 0.5, 7.0, 4.6, 9.0, 5.9,
     2.2, 8.0, 6.6, 0.3, 4.2, 7.4, 3.0, 8.6, 5.5, 1.6, 6.9, 4.3, 7.7, 2.7, 5.9, 9.0, 3.9, 6.4, 0.6, 4.8,
     7.0, 5.6],
]

# ---------------- build tables ----------------
palette = dict(zip(chrom_names, chrom_colors))
chrom_order = {n: i for i, n in enumerate(chrom_names)}


def zero_table():
    rows = []
    for name, s, e in zip(chrom_names, chrom_start, chrom_end):
        pos = np.arange(s, e + 1, 3)
        rows.append(pd.DataFrame({"pos": pos, "val": 0.0, "chrom": name}))
    return pd.concat(rows, ignore_index=True)


def with_peaks(pos, val):
    base = zero_table()
    idx = np.searchsorted(chrom_start, pos, side="right") - 1
    pk = pd.DataFrame({"pos": pos, "val": val, "chrom": [chrom_names[i] for i in idx]})
    df = pd.concat([base, pk], ignore_index=True)
    df["order"] = df["chrom"].map(chrom_order)
    return df.sort_values(["order", "pos"], kind="stable")


def cloud_table(values, values_2):
    rows = []
    for name, s, e, v, v2 in zip(chrom_names, chrom_start, chrom_end, values, values_2):
        rows.append(pd.DataFrame({"pos": np.linspace(s + 2, e - 2, len(v)), "val": v, "chrom": name}))
        rows.append(pd.DataFrame({"pos": np.linspace(s + 4, e - 1, len(v2)), "val": v2, "chrom": name}))
    df = pd.concat(rows, ignore_index=True)
    df["order"] = df["chrom"].map(chrom_order)
    return df.sort_values(["order", "pos"], kind="stable")


tables = [zero_table(), with_peaks(b_peak_pos, b_peak_val), with_peaks(c_peak_pos, c_peak_val),
          cloud_table(d_values, d_values_2), cloud_table(e_values, e_values_2)]

# ---------------- figure ----------------
W, H = 750, 753
fig = plt.figure(figsize=(W / 100, H / 100), dpi=100)

xscale = 678 / 4000.0
x0px = 62.0
xlim = (-155, 4005)
ax_left = x0px + xlim[0] * xscale
ax_right = x0px + xlim[1] * xscale
ky = 71.3 / 20.0
ylim = (-0.8, 20.8)
zero_px = [83.5, 241.2, 398.9, 556.6, 714.3]

for i, (df, title) in enumerate(zip(tables, panel_titles)):
    y0 = zero_px[i]
    bottom_px = y0 - ylim[0] * ky
    top_px = y0 - ylim[1] * ky
    ax = fig.add_axes([ax_left / W, 1 - bottom_px / H, (ax_right - ax_left) / W, (bottom_px - top_px) / H])
    sns.scatterplot(data=df, x="pos", y="val", hue="chrom", hue_order=chrom_names, palette=palette,
                    s=8, marker="o", legend=False, ax=ax)
    coll = ax.collections[-1]
    fc = coll.get_facecolors()
    coll.set_facecolors("none")
    coll.set_edgecolors(fc)
    coll.set_linewidths(0.8)

    ax.set_xlim(*xlim)
    ax.set_ylim(*ylim)
    ax.set_xlabel("")
    ax.set_ylabel("")
    for sp in ["top", "right"]:
        ax.spines[sp].set_visible(False)
    ax.spines["left"].set_bounds(0, 20)
    ax.spines["left"].set_linewidth(0.7)
    ax.spines["left"].set_color("#333333")
    ax.set_yticks(y_ticks)
    ax.set_yticklabels([str(t) for t in y_ticks])
    ax.tick_params(axis="y", left=True, length=3.2, width=0.6, color="#333333", pad=2, labelsize=5)
    if i == 4:
        ax.spines["bottom"].set_bounds(0, 4000)
        ax.spines["bottom"].set_linewidth(0.7)
        ax.spines["bottom"].set_color("#333333")
        ax.set_xticks(x_ticks)
        ax.set_xticklabels([str(t) for t in x_ticks])
        ax.tick_params(axis="x", bottom=True, length=3.0, width=0.6, color="#333333", pad=4, labelsize=5)
    else:
        ax.spines["bottom"].set_visible(False)
        ax.set_xticks([])
    ax.grid(False)

    fig.text(34 / W, 1 - (y0 - 20 * ky - 1.0) / H, title, ha="left", va="baseline", fontsize=7.5)
    fig.text(5 / W, 1 - (y0 - 10 * ky) / H, "SNPs/kb", rotation=90, ha="center", va="center", fontsize=5)

fig.text(401 / W, 1 - 748 / H, "Genome position", ha="center", va="center", fontsize=5)

fig.savefig("out.png", dpi=100)
